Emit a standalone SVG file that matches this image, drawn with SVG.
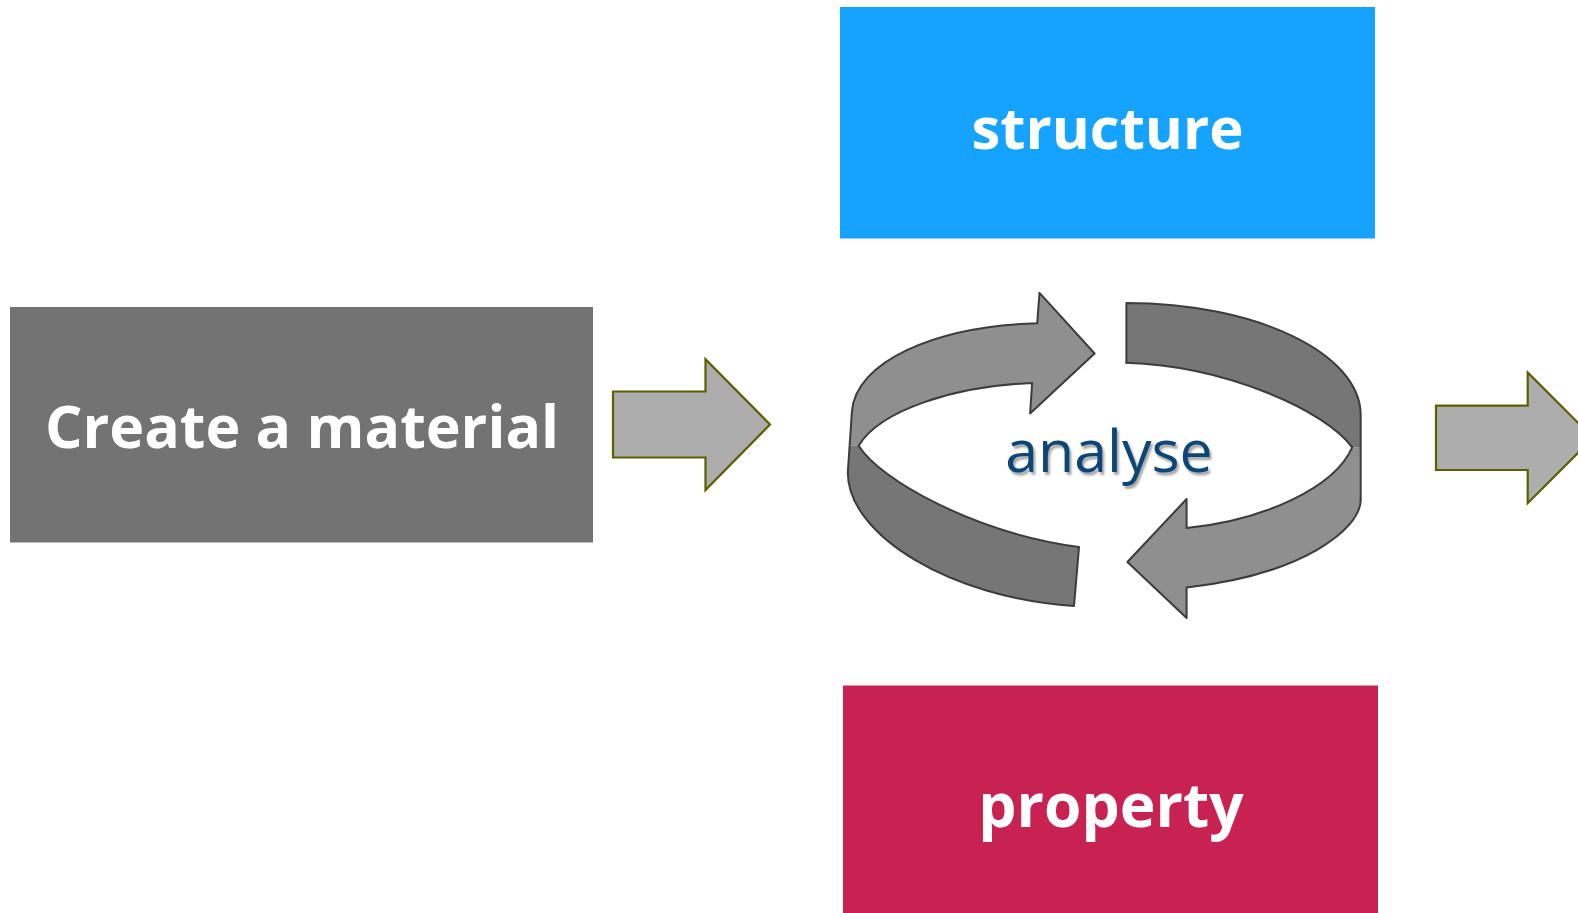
<svg xmlns="http://www.w3.org/2000/svg" width="1578" height="913" viewBox="0 0 1578 913">
  <defs>
    <style>
      .label { font-family: "Open Sans", "Noto Sans", "DejaVu Sans", sans-serif; font-weight: 700; fill: #ffffff; text-anchor: middle; }
      .block-arrow { fill: #adadad; stroke: #5e5e00; stroke-width: 2.2; stroke-linejoin: miter; }
      .face-light { fill: #8f8f8f; stroke: none; }
      .face-dark { fill: #767676; stroke: none; }
      .edge { fill: none; stroke: #3c3c3c; stroke-width: 2; stroke-linejoin: round; stroke-linecap: round; }
      .cycle-label { font-family: "Open Sans", "Noto Sans", "DejaVu Sans", sans-serif; font-weight: 400; fill: #0d4576; text-anchor: middle; }
    </style>
    <filter id="soft-shadow" x="-10%" y="-20%" width="120%" height="150%">
      <feGaussianBlur in="SourceAlpha" stdDeviation="1.2"/>
      <feOffset dx="2" dy="2.5" result="blurred"/>
      <feFlood flood-color="#000000" flood-opacity="0.35"/>
      <feComposite in2="blurred" operator="in"/>
      <feMerge>
        <feMergeNode/>
        <feMergeNode in="SourceGraphic"/>
      </feMerge>
    </filter>
  </defs>

  <rect width="1578" height="913" fill="#ffffff"/>

  <!-- starting step -->
  <g id="create-material">
    <rect x="10" y="307" width="583" height="235.5" fill="#737373"/>
    <text class="label" x="302" y="448" font-size="59">Create a material</text>
  </g>

  <!-- top box -->
  <g id="structure">
    <rect x="840" y="7" width="535" height="231.5" fill="#16a3ff"/>
    <text class="label" x="1107.5" y="148.5" font-size="58">structure</text>
  </g>

  <!-- bottom box -->
  <g id="property">
    <rect x="843" y="685.5" width="535" height="227.5" fill="#c82253"/>
    <text class="label" x="1111" y="826.5" font-size="60.5">property</text>
  </g>

  <!-- circular analysis loop: two ribbon arrows chasing each other -->
  <g id="analyse">
    <!-- faces -->
    <path class="face-dark" d="M 1126.4,303 C 1255.8,303 1360.7,353.2 1360.7,415.2 L 1360.7,447 L 1352.2,447.3 C 1325,410 1225,366 1126.4,362.8 Z"/>
    <path class="face-light" d="M 1352.2,447.3 L 1360.7,447 L 1360.7,499.7 C 1360.7,530 1300,575 1186.6,587.5 L 1186.6,618 L 1127.4,562 L 1186.6,499 L 1186.6,528 C 1265,520 1335,487 1352.2,447.3 Z"/>
    <path class="face-light" d="M 851.9,411.8 C 855,362 935,326 1037.2,323.3 L 1039.5,292.8 L 1094.6,353.5 L 1030.1,413.5 L 1032.1,383.1 C 955,386 880,410 858.7,445.7 L 849.9,445.7 Z"/>
    <path class="face-dark" d="M 849.9,445.7 L 858.7,445.7 C 880,480 975,533 1079,547 L 1074,606 C 950,598 848,535 847.8,472.7 Z"/>
    <!-- outlines -->
    <path class="edge" d="M 1126.4,362.8 L 1126.4,303 C 1255.8,303 1360.7,353.2 1360.7,415.2 L 1360.7,499.7"/>
    <path class="edge" d="M 1126.4,362.8 C 1225,366 1325,410 1352.2,447.3"/>
    <path class="edge" d="M 1352.2,447.3 C 1335,487 1265,520 1186.6,528 L 1186.6,499 L 1127.4,562 L 1186.6,618 L 1186.6,587.5 C 1300,575 1360.7,530 1360.7,499.7"/>
    <path class="edge" d="M 858.7,445.7 C 880,410 955,386 1032.1,383.1 L 1030.1,413.5 L 1094.6,353.5 L 1039.5,292.8 L 1037.2,323.3 C 935,326 855,362 851.9,411.8 L 847.8,472.7"/>
    <path class="edge" d="M 858.7,445.7 C 880,480 975,533 1079,547 L 1074,606 C 950,598 848,535 847.8,472.7"/>
    <text class="cycle-label" x="1109" y="472" font-size="59" filter="url(#soft-shadow)">analyse</text>
  </g>

  <!-- flow arrows between steps -->
  <g id="connectors">
    <polygon class="block-arrow" points="613,391.5 705.5,391.5 705.5,359.3 770,424.5 705.5,490 705.5,457.5 613,457.5"/>
    <polygon class="block-arrow" points="1436,405.6 1527.7,405.6 1527.7,372.4 1593,437.8 1527.7,503.2 1527.7,470 1436,470"/>
  </g>
</svg>
